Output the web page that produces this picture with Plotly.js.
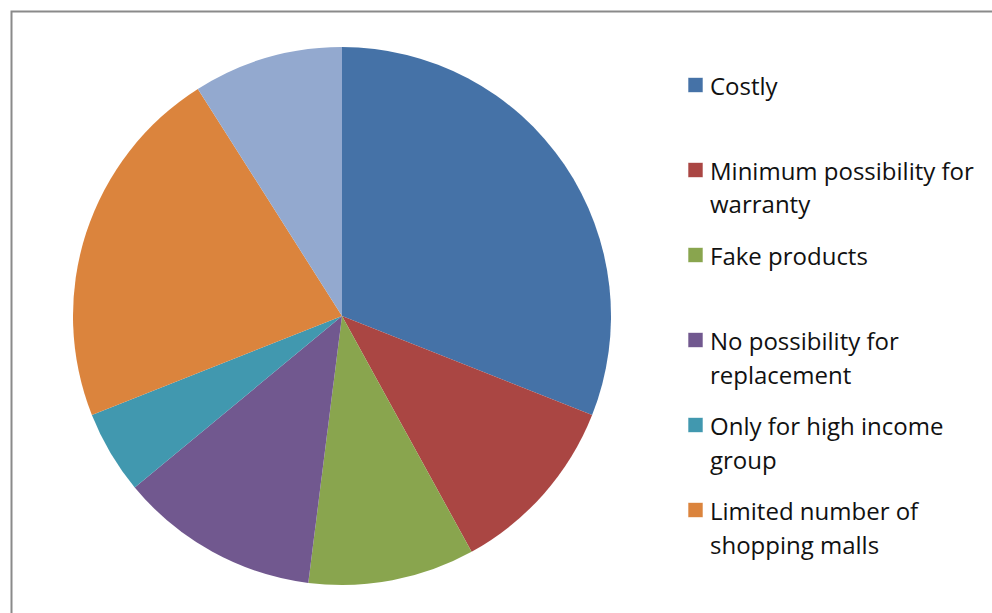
<!DOCTYPE html>
<html>
<head>
<meta charset="utf-8">
<script src="https://cdn.plot.ly/plotly-3.0.1.min.js"></script>
<style>html,body{margin:0;padding:0;background:#fff;}#chart{width:992px;height:613px;}</style>
</head>
<body>
<div id="chart"></div>
<script>
const labels = ["Costly", "Minimum possibility for warranty", "Fake products", "No possibility for replacement", "Only for high income group", "Limited number of shopping malls", "Others"];
const values = [31, 11, 10, 12, 5, 22, 9];
const colors = ["#4572A7", "#AA4643", "#89A54E", "#71588F", "#4198AF", "#DB843D", "#93A9CF"];
const legendText = ["Costly", "Minimum possibility for<br>warranty", "Fake products", "No possibility for<br>replacement", "Only for high income<br>group", "Limited number of<br>shopping malls"];

const W = 992, H = 613;
const px = x => x / W;
const py = y => 1 - y / H;

const annotations = [];
const shapes = [];
legendText.forEach((t, i) => {
  const yc = 85 + 85 * i;
  shapes.push({type: "rect", xref: "paper", yref: "paper",
    x0: px(688), x1: px(703), y0: py(yc + 7.5), y1: py(yc - 7.5),
    fillcolor: colors[i], line: {width: 1, color: "rgba(255,255,255,0.6)"}});
  t.split("<br>").forEach((line, j) => {
    annotations.push({xref: "paper", yref: "paper", x: px(708), y: py(yc + 34 * j),
      xanchor: "left", yanchor: "middle", showarrow: false, text: line,
      font: {family: "Open Sans, sans-serif", size: 24, color: "#111"}});
  });
});
// chart frame
shapes.push({type: "rect", xref: "paper", yref: "paper",
  x0: px(11.5), x1: px(1100), y0: py(700), y1: py(11.5),
  line: {color: "#8a8a8a", width: 2}, layer: "above"});

const data = [{
  type: "pie", labels: labels, values: values, sort: false, direction: "clockwise", rotation: 0,
  marker: {colors: colors, line: {width: 0}}, textinfo: "none", hoverinfo: "none",
  domain: {x: [px(342 - 269), px(342 + 269)], y: [py(316 + 269), py(316 - 269)]},
  showlegend: false
}];

const layout = {
  width: W, height: H, margin: {l: 0, r: 0, t: 0, b: 0},
  paper_bgcolor: "#fff", showlegend: false,
  annotations: annotations, shapes: shapes
};
Plotly.newPlot("chart", data, layout, {displayModeBar: false, staticPlot: true});
</script>
</body>
</html>
